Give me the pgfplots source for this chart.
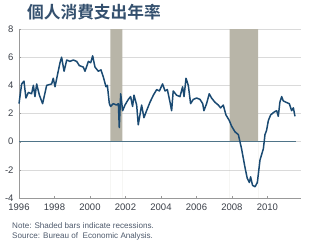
\documentclass[border=0pt]{standalone}
\usepackage{pgfplots}
\pgfplotsset{compat=1.18}
\usepackage{fontspec}
\setmainfont{Liberation Sans}
\newfontfamily\cjk{Noto Sans CJK TC Bold}
\definecolor{linec}{HTML}{1A4A72}
\definecolor{zeroc}{HTML}{4F7488}
\definecolor{recc}{HTML}{B8B5A8}
\definecolor{gridc}{HTML}{DADADA}
\definecolor{txtc}{HTML}{3A3F48}
\definecolor{notec}{HTML}{4E5A6C}
\definecolor{titlec}{HTML}{34506E}
\begin{document}
\begin{tikzpicture}
\useasboundingbox (-19bp,-46bp) rectangle (294bp,198bp);
\begin{axis}[
  at={(0,0)}, anchor=south west,
  scale only axis, width=282bp, height=169bp,
  xmin=1996, xmax=2011.89, ymin=-4, ymax=8,
  xtick={1996,1998,...,2010}, ytick={-4,-2,...,8},
  xticklabel style={/pgf/number format/1000 sep={}},
  /pgf/number format/assume math mode=true,
  ticklabel style={font=\fontsize{9.5bp}{10bp}\selectfont, text=txtc},
  axis x line*=bottom, axis y line*=left,
  axis line style={draw=gray!80, line width=0.6pt},
  x axis line style={-}, y axis line style={-},
  tick align=inside, major tick length=2bp,
  tick style={draw=gray!80},
  ymajorgrids, grid style={draw=gridc, line width=0.5pt},
  yticklabel style={xshift=-2bp},
  xticklabel style={yshift=-2bp},
  clip=false,
]
\addplot[fill=recc, draw=none] coordinates {(2001.15,-4)(2001.15,8)(2001.83,8)(2001.83,-4)} \closedcycle;
\addplot[fill=recc, draw=none] coordinates {(2007.87,-4)(2007.87,8)(2009.48,8)(2009.48,-4)} \closedcycle;
\addplot[zeroc, line width=1.1pt] coordinates {(1996,0)(2011.6,0)};
\addplot[linec, line width=1.5pt, line join=round] coordinates {
(1996.00,2.7)(1996.15,4.1)(1996.28,4.3)(1996.39,3.1)(1996.53,3.5)(1996.71,3.4)
(1996.81,4.0)(1996.90,3.2)(1996.995,4.1)(1997.15,3.3)(1997.33,2.7)(1997.56,4.0)
(1997.84,4.1)(1997.93,4.5)(1998.03,3.9)(1998.16,4.7)(1998.31,5.6)(1998.40,6.0)
(1998.54,5.0)(1998.69,5.8)(1998.87,5.7)(1999.06,5.8)(1999.25,5.7)(1999.40,5.4)
(1999.62,5.3)(1999.72,5.0)(1999.91,5.7)(2000.04,5.6)(2000.15,6.1)(2000.28,5.3)
(2000.47,5.0)(2000.62,5.1)(2000.75,4.6)(2000.90,3.9)(2000.98,4.0)(2001.09,2.7)
(2001.16,2.5)(2001.31,2.7)(2001.50,2.6)(2001.60,2.7)(2001.65,1.0)(2001.73,3.4)
(2001.84,2.2)(2001.97,2.6)(2002.16,3.0)(2002.29,3.2)(2002.40,2.5)(2002.48,3.3)
(2002.63,2.6)(2002.72,1.2)(2002.91,2.6)(2003.04,1.7)(2003.19,2.2)(2003.38,2.8)
(2003.57,3.3)(2003.76,3.7)(2003.91,3.6)(2004.09,4.1)(2004.23,3.6)(2004.36,3.7)
(2004.51,2.8)(2004.60,2.2)(2004.69,3.6)(2004.88,3.3)(2005.07,3.2)(2005.22,3.9)
(2005.30,3.2)(2005.41,4.5)(2005.54,4.0)(2005.67,2.7)(2005.82,3.0)(2006.01,3.1)
(2006.20,3.0)(2006.35,2.7)(2006.42,2.2)(2006.57,2.7)(2006.72,3.4)(2006.85,3.1)
(2007.04,2.8)(2007.23,2.6)(2007.36,2.4)(2007.51,2.6)(2007.66,1.9)(2007.85,1.5)
(2007.98,1.1)(2008.17,0.7)(2008.36,0.5)(2008.54,-0.5)(2008.73,-1.8)(2008.86,-2.6)
(2008.98,-2.9)(2009.05,-2.5)(2009.16,-3.1)(2009.30,-3.2)(2009.43,-2.9)(2009.58,-1.3)
(2009.77,-0.5)(2009.86,0.5)(2009.95,0.8)(2010.05,1.5)(2010.18,1.9)(2010.37,2.1)
(2010.52,2.2)(2010.61,1.8)(2010.70,2.8)(2010.80,3.2)(2010.89,2.9)(2011.04,2.8)
(2011.23,2.7)(2011.36,2.2)(2011.46,2.4)(2011.55,1.8)
};
\end{axis}
\node[anchor=west, text=titlec, inner sep=0pt, font=\cjk\fontsize{16.7bp}{18bp}\selectfont] at (8bp,186bp) {個人消費支出年率};
\node[anchor=west, text=notec, inner sep=0pt, font=\fontsize{8.1bp}{9bp}\selectfont] at (-7bp,-28bp) {Note: Shaded bars indicate recessions.};
\node[anchor=west, text=notec, inner sep=0pt, font=\fontsize{8.1bp}{9bp}\selectfont] at (-7bp,-38bp) {Source: Bureau of\ \ Economic Analysis.};
\end{tikzpicture}
\end{document}
